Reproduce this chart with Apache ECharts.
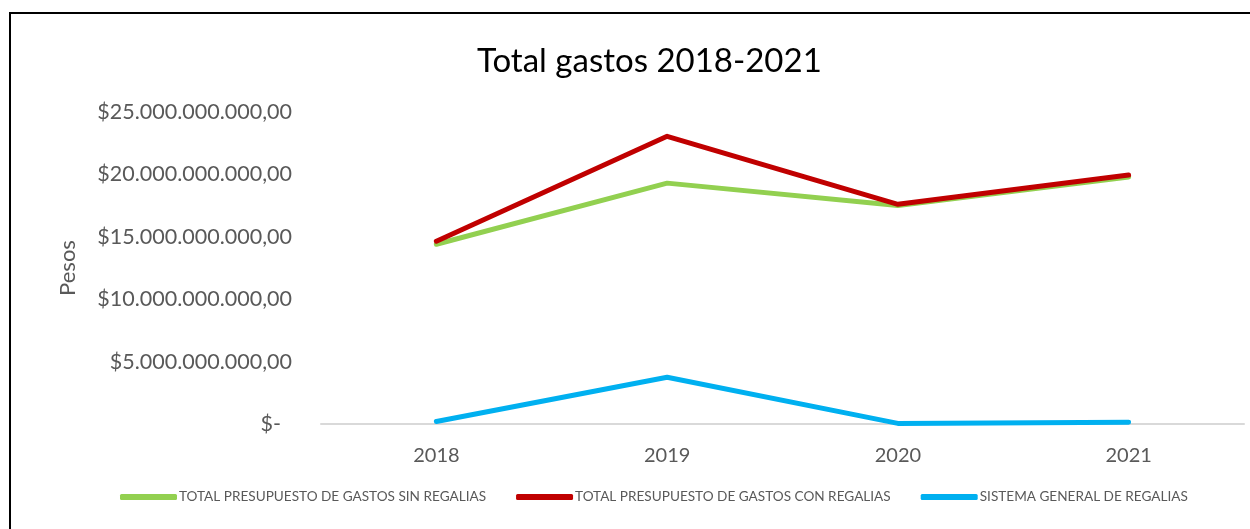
<!DOCTYPE html>
<html>
<head>
<meta charset="utf-8">
<script src="https://cdn.jsdelivr.net/npm/echarts@6/dist/echarts.min.js"></script>
<style>
  html, body { margin: 0; padding: 0; background: #ffffff; }
  #main { width: 1250px; height: 529px; }
</style>
</head>
<body>
<div id="main"></div>
<script>
// datos del gráfico
const years = ['2018', '2019', '2020', '2021'];
const sinRegalias = [14.4e9, 19.3e9, 17.5e9, 19.8e9];
const conRegalias = [14.65e9, 23.05e9, 17.6e9, 19.95e9];
const sgr = [0.2e9, 3.75e9, 0.05e9, 0.15e9];
const seriesNames = [
  'TOTAL PRESUPUESTO DE GASTOS SIN REGALIAS',
  'TOTAL PRESUPUESTO DE GASTOS CON REGALIAS',
  'SISTEMA GENERAL DE REGALIAS'
];
const colors = ['#92D050', '#C00000', '#00B0F0'];

const FONT = 'Lato, "Open Sans", sans-serif';
const textColor = '#595959';

// formato de pesos: $25.000.000.000,00
const pesos = (v) => {
  if (v === 0) return '$-  ';
  const s = Math.round(v).toString().replace(/\B(?=(\d{3})+(?!\d))/g, '.');
  return '$' + s + ',00';
};

const chart = echarts.init(document.getElementById('main'));
const mkLine = (name, data, color) => ({
  name: name,
  type: 'line',
  data: data,
  symbol: 'none',
  lineStyle: { color: color, width: 5, cap: 'round', join: 'round' },
  itemStyle: { color: color }
});

chart.setOption({
  animation: false,
  title: {
    text: 'Total gastos 2018-2021',
    left: 472,
    top: 40,
    textStyle: { fontFamily: FONT, fontSize: 33, fontWeight: 'normal', color: '#000000' }
  },
  grid: { left: 321, right: 6, top: 112, bottom: 105 },
  legend: {
    bottom: 20,
    left: 115,
    icon: 'roundRect',
    itemWidth: 57,
    itemHeight: 6,
    itemGap: 30,
    textStyle: { fontFamily: FONT, fontSize: 13.6, color: textColor, padding: [0, 0, 0, -3] },
    data: seriesNames
  },
  xAxis: {
    type: 'category',
    data: years,
    boundaryGap: true,
    axisTick: { show: false },
    axisLine: { lineStyle: { color: '#d9d9d9', width: 2 } },
    axisLabel: { fontFamily: FONT, fontSize: 20, color: textColor, margin: 22 }
  },
  yAxis: {
    type: 'value',
    min: 0,
    max: 25e9,
    interval: 5e9,
    name: 'Pesos',
    nameLocation: 'middle',
    nameGap: 242,
    nameTextStyle: { fontFamily: FONT, fontSize: 22, color: textColor },
    splitLine: { show: false },
    axisLine: { show: false },
    axisTick: { show: false },
    axisLabel: { fontFamily: FONT, fontSize: 21.5, color: textColor, margin: 29, formatter: pesos }
  },
  graphic: [
    {
      type: 'polyline',
      shape: { points: [[10, 529], [10, 13], [1250, 13]] },
      style: { stroke: '#000000', lineWidth: 2, fill: null }
    }
  ],
  series: [
    mkLine(seriesNames[0], sinRegalias, colors[0]),
    mkLine(seriesNames[1], conRegalias, colors[1]),
    mkLine(seriesNames[2], sgr, colors[2])
  ]
});
window.onresize = function () {
  chart.resize();
};
</script>
</body>
</html>
